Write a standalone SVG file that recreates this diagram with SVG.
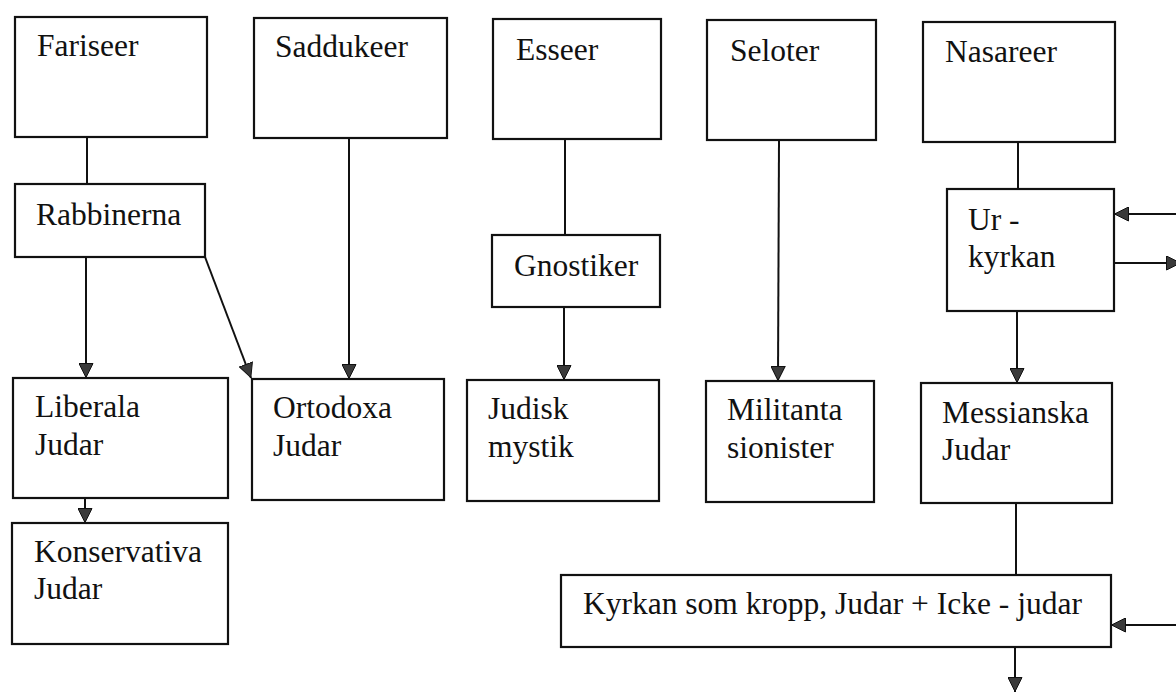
<svg xmlns="http://www.w3.org/2000/svg" width="1176" height="693" viewBox="0 0 1176 693">
<style>
  .box { fill: #ffffff; stroke: #111111; stroke-width: 2.2; }
  .lbl { font-family: 'Liberation Serif', 'Tinos', 'Times New Roman', 'DejaVu Serif', serif; font-size: 31.5px; fill: #111111; }
  .conn { stroke: #111111; stroke-width: 2; fill: none; }
  .arr { marker-end: url(#ah); }
</style>
<defs>
  <marker id="ah" viewBox="0 0 15 15" refX="15" refY="7.5" markerWidth="15" markerHeight="15" markerUnits="userSpaceOnUse" orient="auto">
    <path d="M0.5,0.5 L14.5,7.5 L0.5,14.5 Z" fill="#3a3a3a" stroke="#111111" stroke-width="1"/>
  </marker>
</defs>
<rect width="1176" height="693" fill="#ffffff"/>

<g id="connectors">
  <line class="conn" x1="87" y1="137" x2="87" y2="184"/>
  <line class="conn arr" x1="86" y1="257" x2="86" y2="378"/>
  <line class="conn arr" x1="205" y1="257" x2="251" y2="378"/>
  <line class="conn arr" x1="349" y1="138" x2="349" y2="379"/>
  <line class="conn" x1="565" y1="139" x2="565" y2="235"/>
  <line class="conn arr" x1="564" y1="307" x2="564" y2="380"/>
  <line class="conn arr" x1="779" y1="140" x2="778" y2="381"/>
  <line class="conn" x1="1018" y1="142" x2="1018" y2="189"/>
  <line class="conn arr" x1="1017" y1="311" x2="1017" y2="383"/>
  <line class="conn arr" x1="1178" y1="214" x2="1114" y2="214"/>
  <line class="conn arr" x1="1114" y1="263" x2="1181" y2="263"/>
  <line class="conn" x1="1016" y1="503" x2="1016" y2="575"/>
  <line class="conn arr" x1="1178" y1="625" x2="1111" y2="625"/>
  <line class="conn arr" x1="1015" y1="647" x2="1015" y2="692"/>
  <line class="conn arr" x1="85" y1="498" x2="85" y2="523"/>
</g>

<g id="fariseer">
  <rect class="box" x="15" y="17" width="192" height="120"/>
  <text class="lbl" x="37" y="56">Fariseer</text>
</g>
<g id="saddukeer">
  <rect class="box" x="254" y="18" width="193" height="120"/>
  <text class="lbl" x="275" y="57">Saddukeer</text>
</g>
<g id="esseer">
  <rect class="box" x="493" y="19" width="168" height="120"/>
  <text class="lbl" x="516" y="60">Esseer</text>
</g>
<g id="seloter">
  <rect class="box" x="707" y="20" width="169" height="120"/>
  <text class="lbl" x="730" y="61">Seloter</text>
</g>
<g id="nasareer">
  <rect class="box" x="923" y="22" width="192" height="120"/>
  <text class="lbl" x="945" y="62">Nasareer</text>
</g>
<g id="rabbinerna">
  <rect class="box" x="15" y="184" width="190" height="73"/>
  <text class="lbl" x="36" y="225">Rabbinerna</text>
</g>
<g id="gnostiker">
  <rect class="box" x="492" y="235" width="168" height="72"/>
  <text class="lbl" x="514" y="276">Gnostiker</text>
</g>
<g id="urkyrkan">
  <rect class="box" x="947" y="189" width="167" height="122"/>
  <text class="lbl" x="968" y="230">Ur -</text>
  <text class="lbl" x="968" y="267">kyrkan</text>
</g>
<g id="liberala">
  <rect class="box" x="13" y="378" width="215" height="120"/>
  <text class="lbl" x="35" y="417">Liberala</text>
  <text class="lbl" x="35" y="455">Judar</text>
</g>
<g id="ortodoxa">
  <rect class="box" x="252" y="379" width="192" height="121"/>
  <text class="lbl" x="273" y="418">Ortodoxa</text>
  <text class="lbl" x="273" y="456">Judar</text>
</g>
<g id="judisk">
  <rect class="box" x="467" y="380" width="192" height="121"/>
  <text class="lbl" x="488" y="419">Judisk</text>
  <text class="lbl" x="488" y="457">mystik</text>
</g>
<g id="militanta">
  <rect class="box" x="706" y="381" width="168" height="121"/>
  <text class="lbl" x="727" y="420">Militanta</text>
  <text class="lbl" x="727" y="458">sionister</text>
</g>
<g id="messianska">
  <rect class="box" x="921" y="383" width="191" height="120"/>
  <text class="lbl" x="942" y="423">Messianska</text>
  <text class="lbl" x="942" y="460">Judar</text>
</g>
<g id="konservativa">
  <rect class="box" x="12" y="523" width="216" height="121"/>
  <text class="lbl" x="34" y="562">Konservativa</text>
  <text class="lbl" x="34" y="599">Judar</text>
</g>
<g id="kyrkan">
  <rect class="box" x="561" y="575" width="550" height="72"/>
  <text class="lbl" x="583" y="614">Kyrkan som kropp, Judar + Icke - judar</text>
</g>
</svg>
